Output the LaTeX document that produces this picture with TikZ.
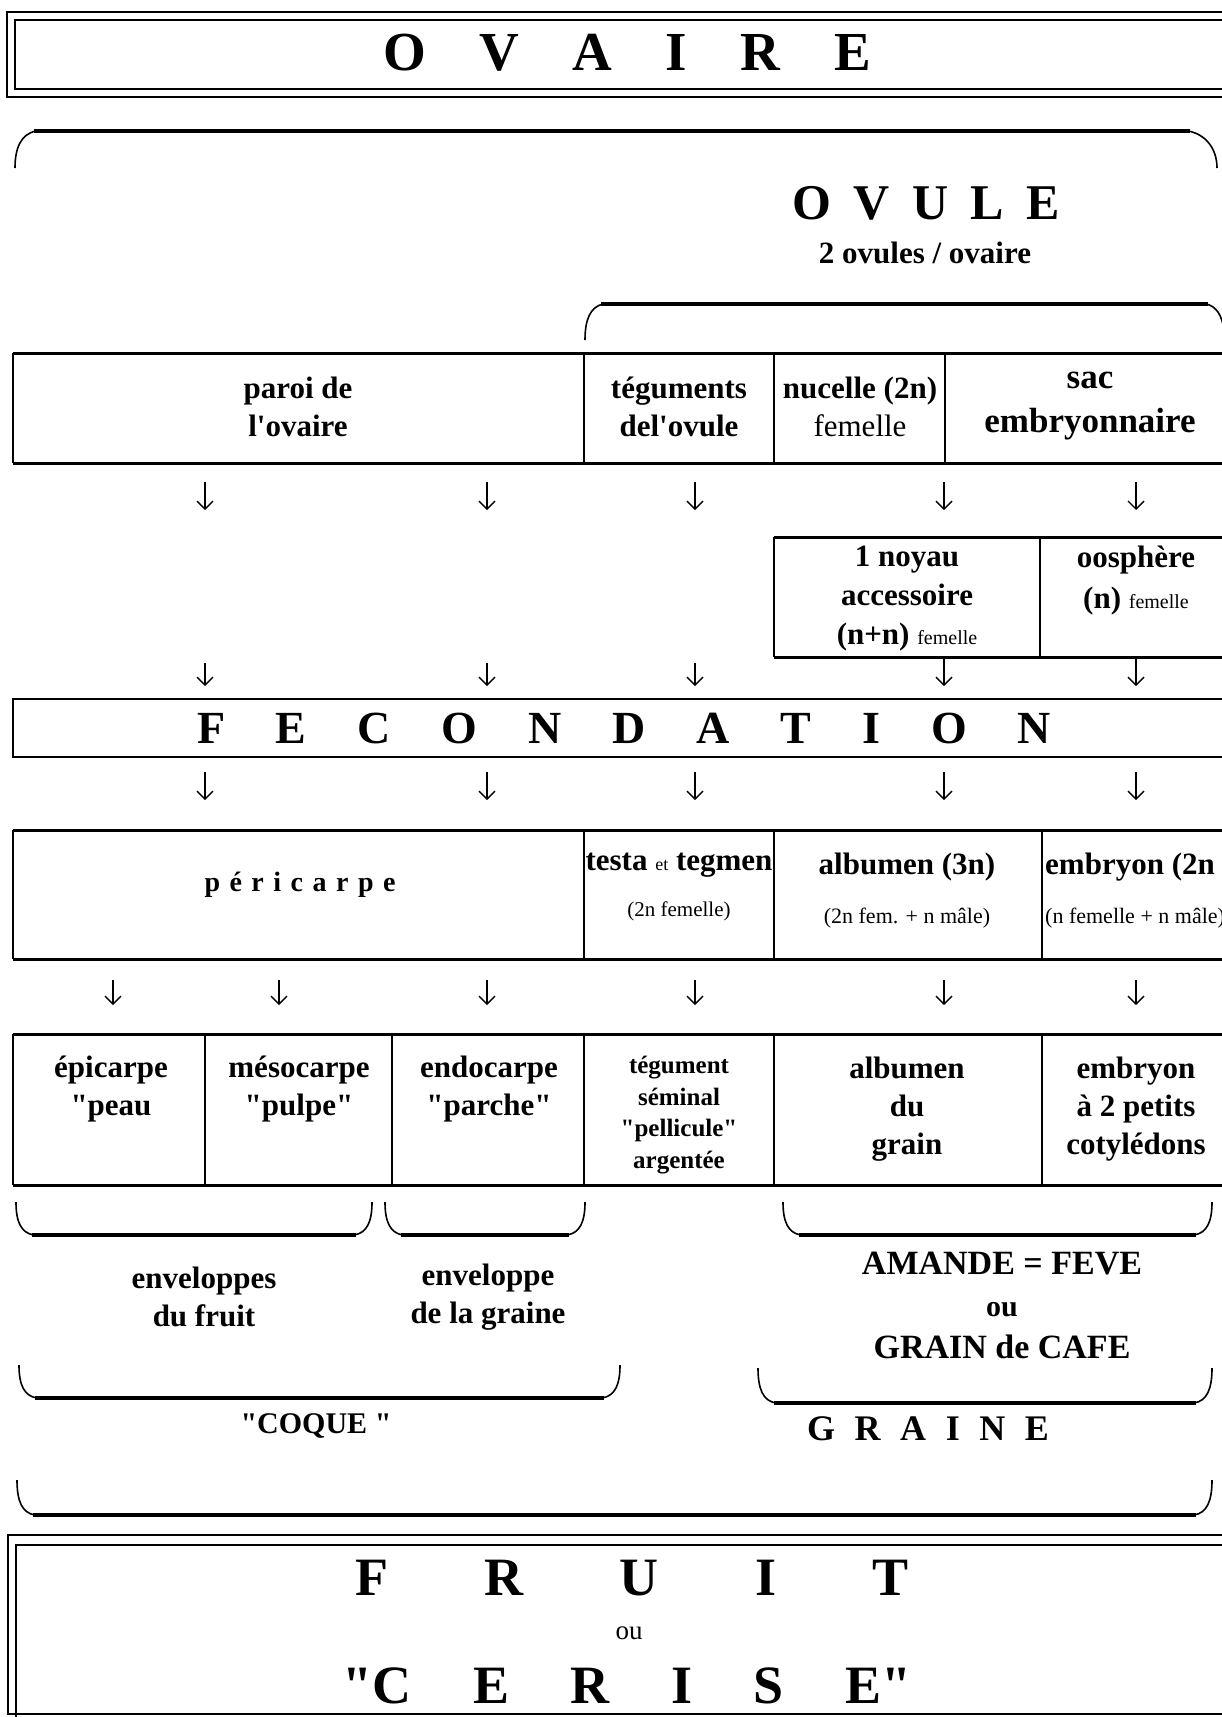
\documentclass[tikz,border=0pt]{standalone}
\usepackage{fontspec}
\setmainfont{Liberation Serif}[Ligatures=TeXOff]
\usetikzlibrary{arrows.meta}
\newcommand\fsz[2]{\fontsize{#1}{#2}\selectfont}
\begin{document}
\begin{tikzpicture}[x=1pt,y=-1pt,
  txt/.style={align=center, inner sep=0pt, font=\bfseries\fsz{31}{38}},
  small/.style={align=center, inner sep=0pt, font=\fsz{21}{24}},
  frame/.style={line width=1.4pt},
  heavy/.style={line width=3pt},
  brace/.style={line width=1.6pt},
  braceline/.style={line width=3.2pt},
  arr/.style={line width=1.4pt, -{Straight Barb[length=8pt,width=16pt,line width=1.4pt]}},
]
\useasboundingbox (0,0) rectangle (1222,1717);
\clip (0,0) rectangle (1222,1717);

% ---------- OVAIRE box ----------
\draw[line width=2.6pt] (7,12) rectangle (1240,97);
\draw[line width=1.8pt] (15,20) rectangle (1240,89);
\node[inner sep=0pt, font=\bfseries\fsz{55}{60}] (ovaire) at (627,53) {\makebox[488pt][s]{O V A I R E}};

% ---------- top brace ----------
\draw[brace] (15,168) .. controls (15,148) and (21,134) .. (36,131);
\draw[braceline] (34,131) -- (1190,131);
\draw[brace] (1188,131) .. controls (1205,134) and (1217,148) .. (1217,168);

\node[inner sep=0pt, font=\bfseries\fsz{50}{55}] (ovule) at (926,203) {\makebox[267pt][s]{O V U L E}};
\node[inner sep=0pt, font=\bfseries\fsz{31}{36}] (nbov) at (925,253) {2 ovules / ovaire};

% ---------- ovule brace ----------
\draw[brace] (585,340) .. controls (585,320) and (590,307) .. (603,304);
\draw[braceline] (601,304) -- (1208,304);
\draw[brace] (1206,304) .. controls (1216,306) and (1222,315) .. (1224,330);

% ---------- row 1 ----------
\draw[heavy] (13,353) -- (1240,353);
\draw[heavy] (13,463) -- (1240,463);
\draw[line width=2pt] (13,353) -- (13,463);
\draw[frame] (584,353) -- (584,463);
\draw[frame] (774,353) -- (774,463);
\draw[frame] (945,353) -- (945,463);
\node[txt] (paroi) at (298,407) {paroi de\\l'ovaire};
\node[txt] (tegu) at (679,407) {téguments\\del'ovule};
\node[txt] (nuc) at (860,407) {nucelle (2n)\\{\mdseries femelle}};
\node[txt, font=\bfseries\fsz{35}{44}] (sac) at (1090,406) {sac\\embryonnaire};

% ---------- row 2 ----------
\draw[heavy] (774,537) -- (1240,537);
\draw[heavy] (774,657) -- (1240,657);
\draw[line width=2.4pt] (774,537) -- (774,657);
\draw[frame] (1040,537) -- (1040,657);
\node[txt, font=\bfseries\fsz{31}{39}] (noyau) at (907,599) {1 noyau\\accessoire\\(n+n) {\mdseries\fsz{20}{39}femelle}};
\node[txt, font=\bfseries\fsz{31}{41}] (oosph) at (1136,581) {oosphère\\(n) {\mdseries\fsz{20}{41}femelle}};

% ---------- FECONDATION ----------
\draw[line width=1.8pt] (1240,699) -- (13,699) -- (13,757) -- (1240,757);
\node[inner sep=0pt, font=\bfseries\fsz{46}{50}] (fec) at (624,728) {\makebox[854pt][s]{F E C O N D A T I O N}};

% ---------- row 3 ----------
\draw[heavy] (13,830) -- (1240,830);
\draw[heavy] (13,959) -- (1240,959);
\draw[line width=2pt] (13,830) -- (13,959);
\draw[frame] (584,830) -- (584,959);
\draw[frame] (774,830) -- (774,959);
\draw[frame] (1042,830) -- (1042,959);
\node[inner sep=0pt, font=\bfseries\fsz{28}{30}] (peri) at (300,885) {\makebox[191pt][s]{p é r i c a r p e}};
\node[txt] (testa) at (679,865) {testa {\mdseries\fsz{18}{20}et} tegmen};
\node[small] (testab) at (679,911) {(2n femelle)};
\node[txt] (alb) at (907,867) {albumen (3n)};
\node[small, font=\fsz{22}{24}] (albb) at (907,918) {(2n fem. + n mâle)};
\node[txt, anchor=west] (embr) at (1045,867) {embryon (2n};
\node[small, font=\fsz{22}{24}, anchor=west] (embrb) at (1045,918) {(n femelle + n mâle)};

% ---------- row 4 ----------
\draw[heavy] (13,1034) -- (1240,1034);
\draw[heavy] (13,1185) -- (1240,1185);
\draw[line width=2pt] (13,1034) -- (13,1185);
\foreach \x in {205,392,584,774,1042} \draw[frame] (\x,1034) -- (\x,1185);
\node[txt] (epi) at (111,1089) {épicarpe\\"peau};
\node[txt] (meso) at (299,1089) {mésocarpe\\"pulpe"};
\node[txt] (endo) at (489,1089) {endocarpe\\"parche"};
\node[txt, font=\bfseries\fsz{25}{31.5}] (tegsem) at (679,1115) {tégument\\séminal\\"pellicule"\\argentée};
\node[txt] (albg) at (907,1109) {albumen\\du\\grain};
\node[txt] (emb) at (1136,1109) {embryon\\à 2 petits\\cotylédons};

% ---------- lower braces ----------
\foreach \a/\b/\t/\l in {16/372/1202/1235, 385/585/1202/1235, 783/1212/1202/1235,
                         19/620/1365/1398, 758/1212/1368/1403, 17/1212/1480/1515} {
  \pgfmathsetmacro\mm{\t+0.6*(\l-\t)}
  \pgfmathsetmacro\lm{\l-2}
  \pgfmathsetmacro\aa{\a+5}
  \pgfmathsetmacro\ab{\a+18}
  \pgfmathsetmacro\ac{\a+16}
  \pgfmathsetmacro\ba{\b-5}
  \pgfmathsetmacro\bb{\b-18}
  \pgfmathsetmacro\bc{\b-16}
  \draw[brace] (\a,\t) .. controls (\a,\mm) and (\aa,\lm) .. (\ab,\l);
  \draw[braceline] (\ac,\l) -- (\bc,\l);
  \draw[brace] (\bb,\l) .. controls (\ba,\lm) and (\b,\mm) .. (\b,\t);
}

\node[txt] (env1) at (204,1297) {enveloppes\\du fruit};
\node[txt] (env2) at (488,1297) {enveloppe\\de la graine};
\node[txt, font=\bfseries\fsz{34}{42}] (amande) at (1002,1305) {AMANDE = FEVE\\{\fsz{30}{42}ou}\\GRAIN de CAFE};
\node[txt, font=\bfseries\fsz{30}{34}] (coque) at (316,1426) {"COQUE "};
\node[inner sep=0pt, font=\bfseries\fsz{36}{40}] (graine) at (928,1429) {\makebox[242pt][s]{G R A I N E}};

% ---------- FRUIT box ----------
\draw[line width=2.6pt] (8,1535) rectangle (1240,1714);
\draw[line width=1.8pt] (1240,1545) -- (16,1545) -- (16,1740);
\node[inner sep=0pt, font=\bfseries\fsz{54}{58}] (fruit) at (632,1578) {\makebox[553pt][s]{F R U I T}};
\node[inner sep=0pt, font=\fsz{27}{30}] (ou) at (629,1633) {ou};
\node[inner sep=0pt, font=\bfseries\fsz{54}{58}] (cerise) at (627,1686) {\makebox[569pt][s]{"C E R I S E"}};

% ---------- arrows ----------
\foreach \x [count=\i] in {205,487,695,944,1136} {
  \coordinate (As\i) at (\x,482); \coordinate (Ae\i) at (\x,510);
  \draw[arr] (As\i) -- (Ae\i);
  \coordinate (Cs\i) at (\x,772); \coordinate (Ce\i) at (\x,800);
  \draw[arr] (Cs\i) -- (Ce\i);
}
\foreach \x/\s [count=\i] in {205/663,487/663,695/663,944/657,1136/657} {
  \coordinate (Bs\i) at (\x,\s); \coordinate (Be\i) at (\x,686);
  \draw[arr] (Bs\i) -- (Be\i);
}
\foreach \x [count=\i] in {113,279,487,695,944,1136} {
  \coordinate (Ds\i) at (\x,980); \coordinate (De\i) at (\x,1005);
  \draw[arr] (Ds\i) -- (De\i);
}
\end{tikzpicture}
\end{document}
